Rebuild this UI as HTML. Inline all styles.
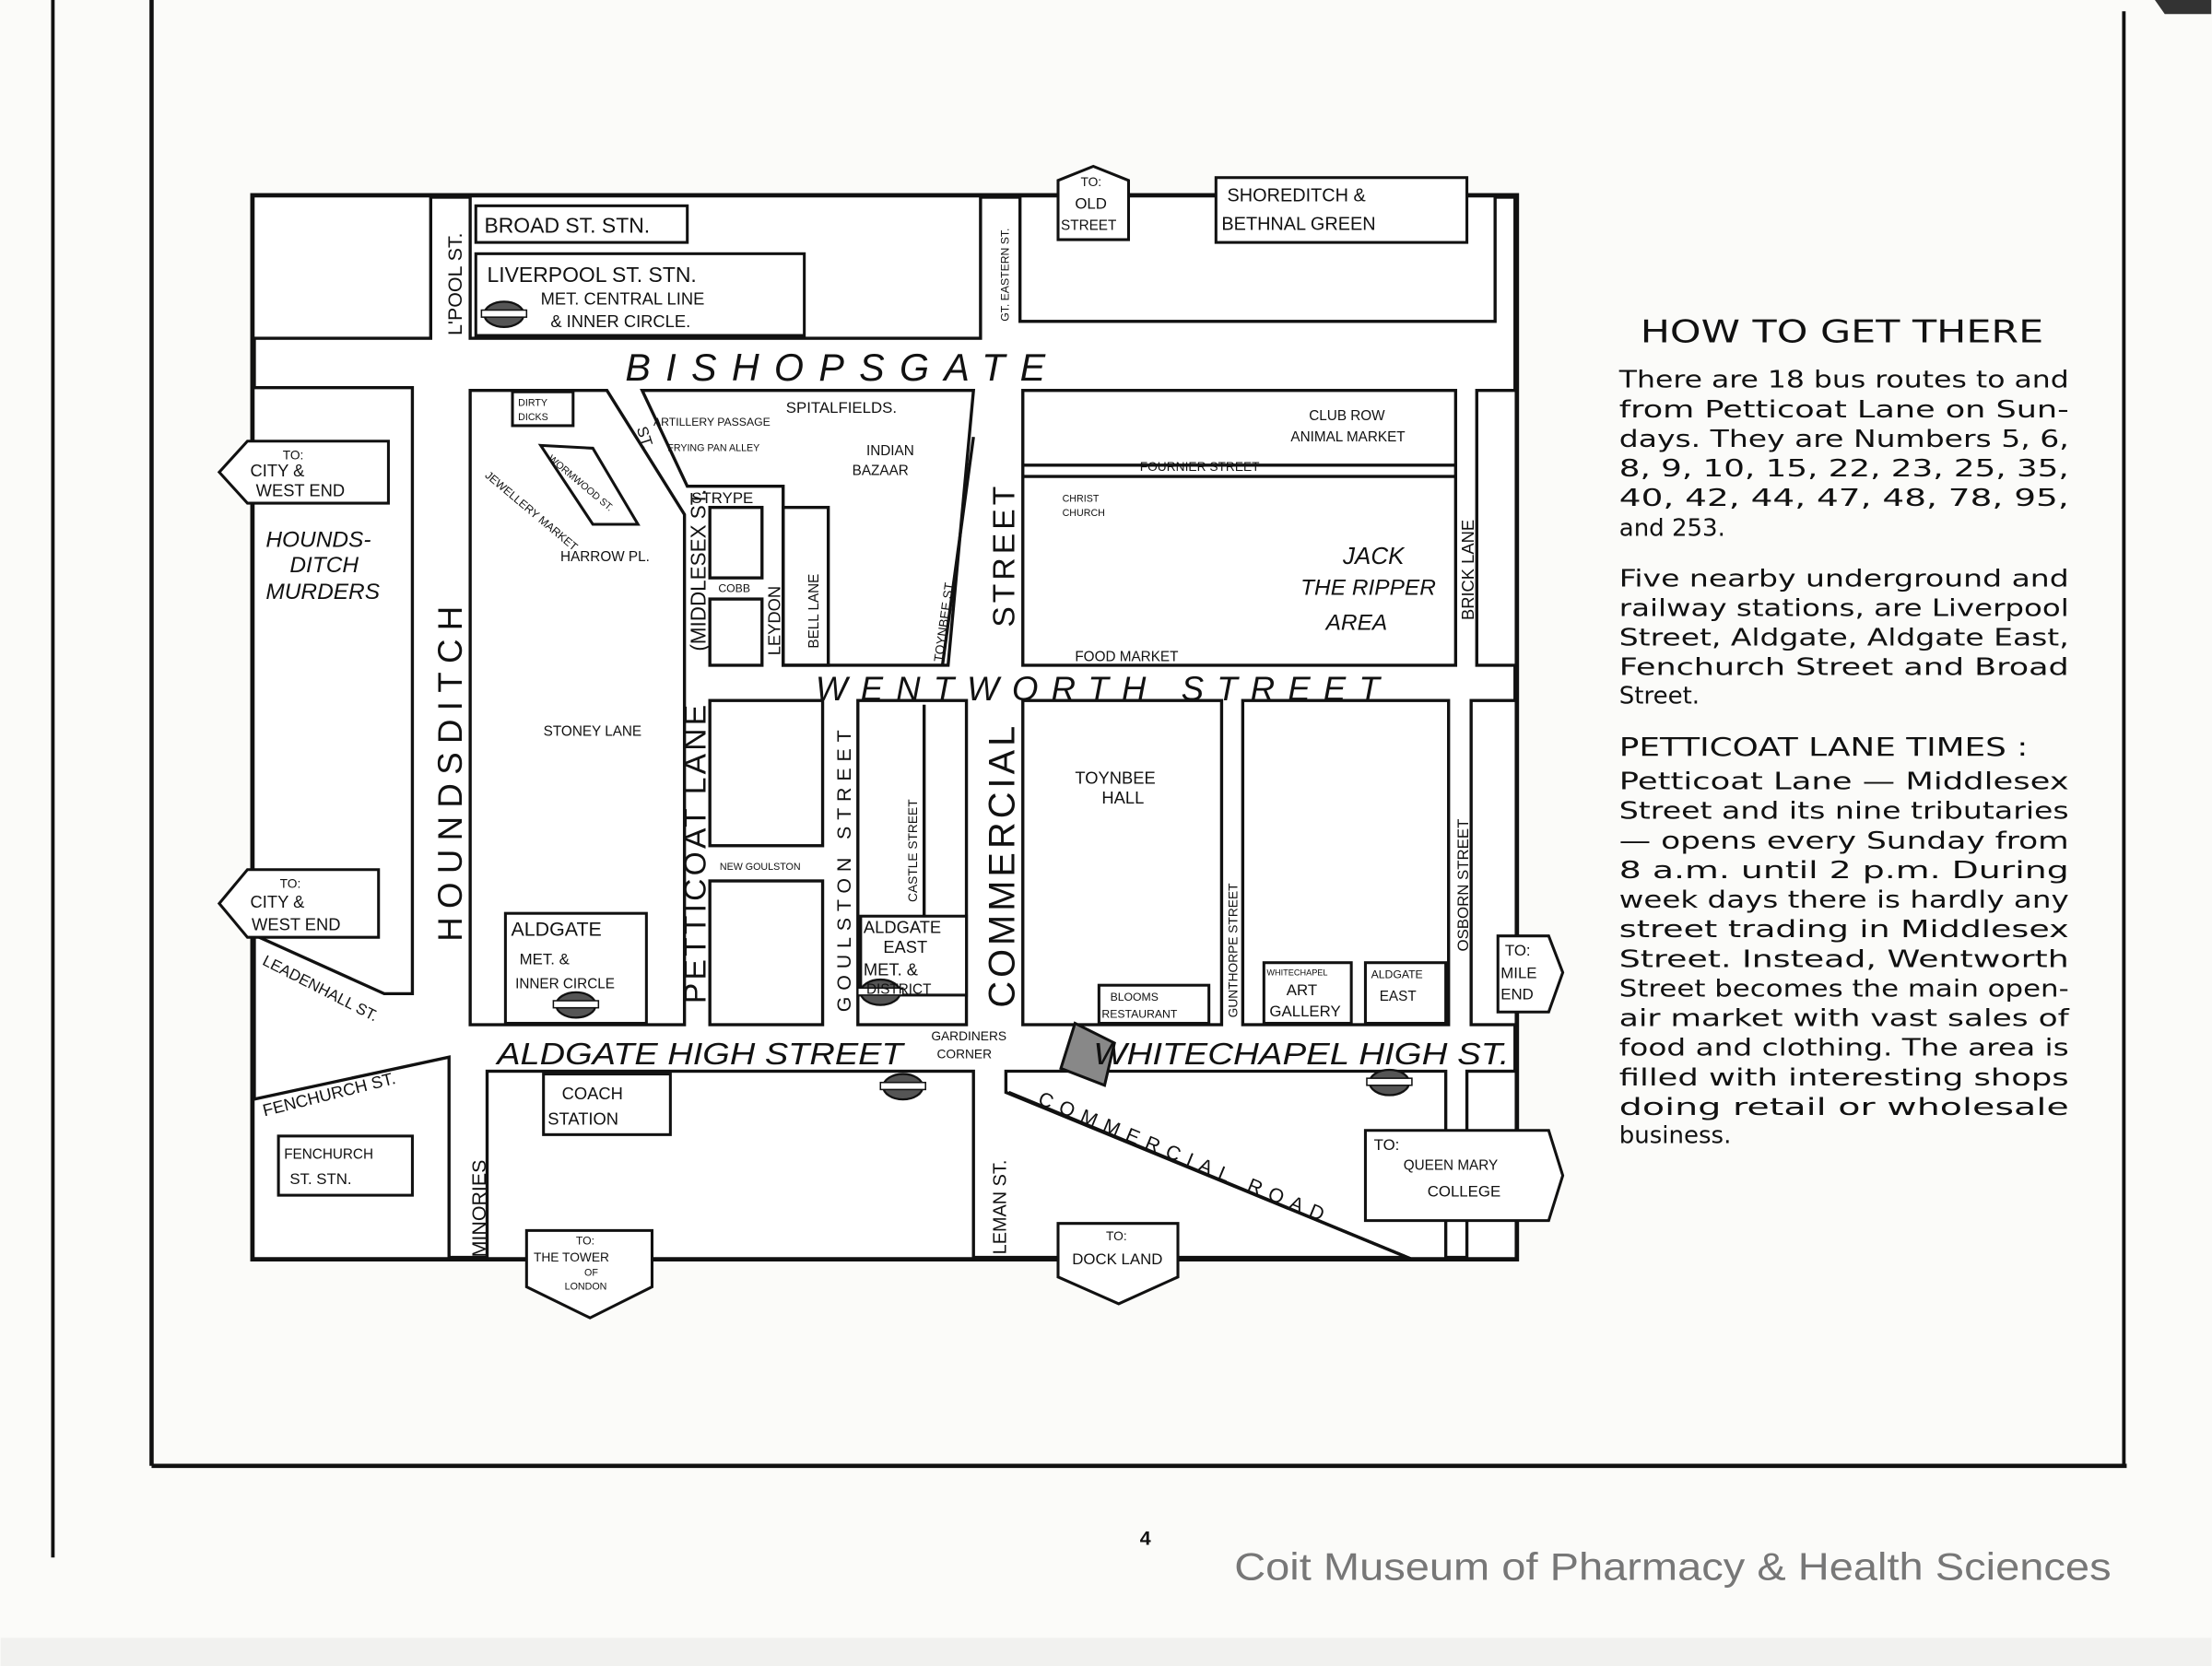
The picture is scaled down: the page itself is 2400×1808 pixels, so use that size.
<!DOCTYPE html>
<html><head><meta charset="utf-8"><style>
html,body{margin:0;padding:0;background:#fbfbf9;}
svg{display:block}
text{font-family:"Liberation Sans",sans-serif;fill:#111}
.r text{font-family:"DejaVu Sans","Liberation Sans",sans-serif}
</style></head><body>
<svg width="2400" height="1808" viewBox="0 0 1568 1182" xmlns="http://www.w3.org/2000/svg">
<rect width="1568" height="1182" fill="#fbfbf9"/>
<rect x="0" y="1162" width="1568" height="20" fill="#f1f1ef"/>
<polygon points="1528,0 1568,0 1568,10 1535,10" fill="#333"/>
<g stroke="#111" fill="none">
<line x1="37" y1="0" x2="37" y2="1105" stroke-width="2.5"/>
<line x1="107" y1="0" x2="107" y2="1040" stroke-width="3"/>
<line x1="107" y1="1040" x2="1508" y2="1040" stroke-width="3"/>
<line x1="1506" y1="8" x2="1506" y2="1040" stroke-width="2.5"/>
</g>
<g stroke="#111" stroke-width="2.2" fill="#fff">
<rect x="179" y="139" width="896" height="754" stroke-width="4" fill="#fff"/>
<rect x="179" y="139" width="126" height="101"/>
<rect x="333" y="139" width="362" height="101"/>
<rect x="723" y="139" width="337" height="89"/>
<polygon points="179,275 292,275 292,705 272,705 179,663"/>
<polygon points="333,277 430,277 485,365 485,727 333,727"/>
<polygon points="455,277 690,277 672,472 555,472 555,345 487,345"/>
<rect x="503" y="360" width="37" height="50"/>
<rect x="503" y="425" width="37" height="47"/>
<rect x="555" y="360" width="32" height="112" fill="none"/>
<rect x="503" y="497" width="80" height="103"/>
<rect x="503" y="625" width="80" height="102"/>
<rect x="608" y="497" width="77" height="230"/>
<line x1="655" y1="500" x2="655" y2="650"/>
<rect x="725" y="277" width="307" height="195"/>
<rect x="1047" y="277" width="28" height="195"/>
<rect x="725" y="497" width="141" height="230"/>
<rect x="881" y="497" width="146" height="230"/>
<rect x="1043" y="497" width="32" height="230"/>
<rect x="345" y="760" width="345" height="133"/>
<polygon points="713,760 1025,760 1025,893 1000,893 713,775"/>
<rect x="1040" y="760" width="35" height="133"/>
<polygon points="179,780 318,750 318,893 179,893"/>
<line x1="725" y1="330" x2="1032" y2="330"/>
<line x1="725" y1="338" x2="1032" y2="338"/>
<line x1="690" y1="310" x2="668" y2="472"/>
<line x1="715" y1="775" x2="1000" y2="893"/>
</g>
<g stroke="#111" stroke-width="2" fill="#fff">
<rect x="337" y="146" width="150" height="26"/>
<rect x="337" y="180" width="233" height="58"/>
<rect x="862" y="126" width="178" height="46"/>
<polygon points="750,128 775,118 800,128 800,170 750,170"/>
<rect x="363" y="278" width="43" height="24"/>
<polygon points="383,316 420,318 452,372 420,372"/>
<rect x="358" y="648" width="100" height="78"/>
<rect x="610" y="650" width="75" height="56"/>
<rect x="385" y="762" width="90" height="43"/>
<rect x="197" y="806" width="95" height="42"/>
<rect x="779" y="699" width="78" height="27"/>
<rect x="896" y="683" width="62" height="43"/>
<rect x="968" y="683" width="57" height="43"/>
<polygon points="175,313 275,313 275,357 175,357 155,335"/>
<polygon points="175,617 268,617 268,665 175,665 155,641"/>
<polygon points="1062,664 1098,664 1108,690 1098,718 1062,718"/>
<polygon points="968,802 1098,802 1108,834 1098,866 968,866"/>
<polygon points="373,873 462,873 462,913 418,935 373,913"/>
<polygon points="750,868 835,868 835,906 793,925 750,906"/>
<polygon points="762,726 790,740 783,770 752,758" fill="#888"/>
</g>
<g fill="#555" stroke="#111" stroke-width="1.5">
<ellipse cx="357" cy="223" rx="14" ry="9"/><ellipse cx="408" cy="713" rx="14" ry="9"/>
<ellipse cx="624" cy="704" rx="14" ry="9"/><ellipse cx="640" cy="771" rx="14" ry="9"/>
<ellipse cx="985" cy="768" rx="14" ry="9"/>
</g>
<g fill="#fff" stroke="#111" stroke-width="1">
<rect x="341" y="220" width="32" height="5"/><rect x="392" y="710" width="32" height="5"/>
<rect x="608" y="701" width="32" height="5"/><rect x="624" y="768" width="32" height="5"/>
<rect x="969" y="765" width="32" height="5"/>
</g>
<g>
<text x="343" y="165" font-size="15">BROAD ST. STN.</text>
<text x="345" y="200" font-size="15">LIVERPOOL ST. STN.</text>
<text x="383" y="216" font-size="12">MET. CENTRAL LINE</text>
<text x="390" y="232" font-size="12">&amp; INNER CIRCLE.</text>
<text x="870" y="143" font-size="13">SHOREDITCH &amp;</text>
<text x="866" y="163" font-size="13">BETHNAL GREEN</text>
<text x="766" y="132" font-size="9">TO:</text><text x="762" y="148" font-size="11">OLD</text><text x="752" y="163" font-size="10">STREET</text>
<text x="443" y="270" font-size="27" font-style="italic" textLength="298" lengthAdjust="spacing">BISHOPSGATE</text>
<text x="578" y="497" font-size="24" font-style="italic" textLength="400" lengthAdjust="spacing">WENTWORTH STREET</text>
<text x="352" y="755" font-size="22" font-style="italic" textLength="288" lengthAdjust="spacingAndGlyphs">ALDGATE HIGH STREET</text>
<text x="775" y="755" font-size="22" font-style="italic" textLength="295" lengthAdjust="spacingAndGlyphs">WHITECHAPEL HIGH ST.</text>
<text x="660" y="738" font-size="9">GARDINERS</text><text x="664" y="751" font-size="9">CORNER</text>
<text x="557" y="293" font-size="11">SPITALFIELDS.</text>
<text x="463" y="302" font-size="8">ARTILLERY PASSAGE</text>
<text x="473" y="320" font-size="7">FRYING PAN ALLEY</text>
<text x="614" y="323" font-size="10">INDIAN</text><text x="604" y="337" font-size="10">BAZAAR</text>
<text x="490" y="357" font-size="11">STRYPE</text>
<text x="397" y="398" font-size="10">HARROW PL.</text>
<text x="509" y="420" font-size="8">COBB</text>
<text x="385" y="522" font-size="10">STONEY LANE</text>
<text x="510" y="617" font-size="7">NEW GOULSTON</text>
<text x="367" y="288" font-size="7">DIRTY</text><text x="367" y="298" font-size="7">DICKS</text>
<text x="928" y="298" font-size="10">CLUB ROW</text><text x="915" y="313" font-size="10">ANIMAL MARKET</text>
<text x="808" y="334" font-size="9">FOURNIER STREET</text>
<text x="753" y="356" font-size="7">CHRIST</text><text x="753" y="366" font-size="7">CHURCH</text>
<text x="952" y="400" font-size="17" font-style="italic">JACK</text>
<text x="922" y="422" font-size="16" font-style="italic">THE RIPPER</text>
<text x="940" y="447" font-size="16" font-style="italic">AREA</text>
<text x="762" y="469" font-size="10">FOOD MARKET</text>
<text x="762" y="556" font-size="12">TOYNBEE</text><text x="781" y="570" font-size="12">HALL</text>
<text x="787" y="710" font-size="8">BLOOMS</text><text x="781" y="722" font-size="8">RESTAURANT</text>
<text x="898" y="692" font-size="6">WHITECHAPEL</text><text x="912" y="706" font-size="11">ART</text><text x="900" y="721" font-size="11">GALLERY</text>
<text x="972" y="694" font-size="8">ALDGATE</text><text x="978" y="710" font-size="10">EAST</text>
<text x="362" y="664" font-size="14">ALDGATE</text><text x="368" y="684" font-size="11">MET. &amp;</text><text x="365" y="701" font-size="10">INNER CIRCLE</text>
<text x="612" y="662" font-size="12">ALDGATE</text><text x="626" y="676" font-size="12">EAST</text><text x="612" y="692" font-size="12">MET. &amp;</text><text x="614" y="705" font-size="10">DISTRICT</text>
<text x="398" y="780" font-size="12">COACH</text><text x="388" y="798" font-size="12">STATION</text>
<text x="201" y="822" font-size="10">FENCHURCH</text><text x="205" y="840" font-size="11">ST. STN.</text>
<text x="200" y="326" font-size="9">TO:</text><text x="177" y="338" font-size="12">CITY &amp;</text><text x="181" y="352" font-size="12">WEST END</text>
<text x="198" y="630" font-size="9">TO:</text><text x="177" y="644" font-size="12">CITY &amp;</text><text x="178" y="660" font-size="12">WEST END</text>
<text x="1067" y="678" font-size="11">TO:</text><text x="1064" y="694" font-size="11">MILE</text><text x="1064" y="709" font-size="11">END</text>
<text x="974" y="816" font-size="11">TO:</text><text x="995" y="830" font-size="10">QUEEN MARY</text><text x="1012" y="849" font-size="11">COLLEGE</text>
<text x="408" y="883" font-size="8">TO:</text><text x="378" y="895" font-size="9">THE TOWER</text><text x="414" y="905" font-size="7">OF</text><text x="400" y="915" font-size="7">LONDON</text>
<text x="784" y="880" font-size="9">TO:</text><text x="760" y="897" font-size="11">DOCK LAND</text>
<text x="188" y="388" font-size="16" font-style="italic">HOUNDS-</text>
<text x="205" y="406" font-size="16" font-style="italic">DITCH</text>
<text x="188" y="425" font-size="16" font-style="italic">MURDERS</text>
<text transform="translate(327,668) rotate(-90)" font-size="24" textLength="238" lengthAdjust="spacing">HOUNDSDITCH</text>
<text transform="translate(500,712) rotate(-90)" font-size="22" textLength="212" lengthAdjust="spacing">PETTICOAT LANE</text>
<text transform="translate(500,462) rotate(-90)" font-size="15" textLength="115" lengthAdjust="spacingAndGlyphs">(MIDDLESEX ST.</text>
<text transform="translate(719,715) rotate(-90)" font-size="26" textLength="200" lengthAdjust="spacing">COMMERCIAL</text>
<text transform="translate(719,445) rotate(-90)" font-size="22" textLength="100" lengthAdjust="spacing">STREET</text>
<text transform="translate(603,718) rotate(-90)" font-size="14" textLength="200" lengthAdjust="spacing">GOULSTON STREET</text>
<text transform="translate(650,640) rotate(-90)" font-size="9">CASTLE STREET</text>
<text transform="translate(553,465) rotate(-90)" font-size="12">LEYDON</text>
<text transform="translate(580,460) rotate(-90)" font-size="10">BELL LANE</text>
<text transform="translate(668,470) rotate(-82)" font-size="9">TOYNBEE ST.</text>
<text transform="translate(327,238) rotate(-90)" font-size="14">L'POOL ST.</text>
<text transform="translate(715,228) rotate(-90)" font-size="8">GT. EASTERN ST.</text>
<text transform="translate(1045,440) rotate(-90)" font-size="12">BRICK LANE</text>
<text transform="translate(1041,675) rotate(-90)" font-size="11">OSBORN STREET</text>
<text transform="translate(877,722) rotate(-90)" font-size="9">GUNTHORPE STREET</text>
<text transform="translate(344,892) rotate(-90)" font-size="14">MINORIES</text>
<text transform="translate(713,890) rotate(-90)" font-size="13">LEMAN ST.</text>
<text transform="translate(735,783) rotate(22.5)" font-size="14" textLength="218" lengthAdjust="spacing">COMMERCIAL ROAD</text>
<text transform="translate(185,684) rotate(27)" font-size="11">LEADENHALL ST.</text>
<text transform="translate(187,792) rotate(-14)" font-size="12">FENCHURCH ST.</text>
<text transform="translate(388,326) rotate(40)" font-size="7">WORMWOOD ST.</text>
<text transform="translate(343,338) rotate(40)" font-size="8">JEWELLERY MARKET</text>
<text transform="translate(451,304) rotate(72)" font-size="11">ST.</text>
</g>
<g class="r" font-size="17">
<text x="1163" y="243" font-size="22" textLength="286" lengthAdjust="spacingAndGlyphs">HOW TO GET THERE</text>
<text x="1148" y="275" textLength="319" lengthAdjust="spacingAndGlyphs">There are 18 bus routes to and</text>
<text x="1148" y="296" textLength="319" lengthAdjust="spacingAndGlyphs">from Petticoat Lane on Sun-</text>
<text x="1148" y="317" textLength="319" lengthAdjust="spacingAndGlyphs">days. They are Numbers 5, 6,</text>
<text x="1148" y="338" textLength="319" lengthAdjust="spacingAndGlyphs">8, 9, 10, 15, 22, 23, 25, 35,</text>
<text x="1148" y="359" textLength="319" lengthAdjust="spacingAndGlyphs">40, 42, 44, 47, 48, 78, 95,</text>
<text x="1148" y="380">and 253.</text>
<text x="1148" y="416" textLength="319" lengthAdjust="spacingAndGlyphs">Five nearby underground and</text>
<text x="1148" y="437" textLength="319" lengthAdjust="spacingAndGlyphs">railway stations, are Liverpool</text>
<text x="1148" y="458" textLength="319" lengthAdjust="spacingAndGlyphs">Street, Aldgate, Aldgate East,</text>
<text x="1148" y="479" textLength="319" lengthAdjust="spacingAndGlyphs">Fenchurch Street and Broad</text>
<text x="1148" y="499">Street.</text>
<text x="1148" y="536" font-size="18" textLength="290" lengthAdjust="spacingAndGlyphs">PETTICOAT LANE TIMES :</text>
<text x="1148" y="560" textLength="319" lengthAdjust="spacingAndGlyphs">Petticoat Lane — Middlesex</text>
<text x="1148" y="581" textLength="319" lengthAdjust="spacingAndGlyphs">Street and its nine tributaries</text>
<text x="1148" y="602" textLength="319" lengthAdjust="spacingAndGlyphs">— opens every Sunday from</text>
<text x="1148" y="623" textLength="319" lengthAdjust="spacingAndGlyphs">8 a.m. until 2 p.m. During</text>
<text x="1148" y="644" textLength="319" lengthAdjust="spacingAndGlyphs">week days there is hardly any</text>
<text x="1148" y="665" textLength="319" lengthAdjust="spacingAndGlyphs">street trading in Middlesex</text>
<text x="1148" y="686" textLength="319" lengthAdjust="spacingAndGlyphs">Street. Instead, Wentworth</text>
<text x="1148" y="707" textLength="319" lengthAdjust="spacingAndGlyphs">Street becomes the main open-</text>
<text x="1148" y="728" textLength="319" lengthAdjust="spacingAndGlyphs">air market with vast sales of</text>
<text x="1148" y="749" textLength="319" lengthAdjust="spacingAndGlyphs">food and clothing. The area is</text>
<text x="1148" y="770" textLength="319" lengthAdjust="spacingAndGlyphs">filled with interesting shops</text>
<text x="1148" y="791" textLength="319" lengthAdjust="spacingAndGlyphs">doing retail or wholesale</text>
<text x="1148" y="811">business.</text>
</g>
<text x="808" y="1096" font-size="14" font-weight="bold">4</text>
<text x="875" y="1121" font-size="27" style="fill:#777" textLength="622" lengthAdjust="spacingAndGlyphs">Coit Museum of Pharmacy &amp; Health Sciences</text>
</svg>
</body></html>
